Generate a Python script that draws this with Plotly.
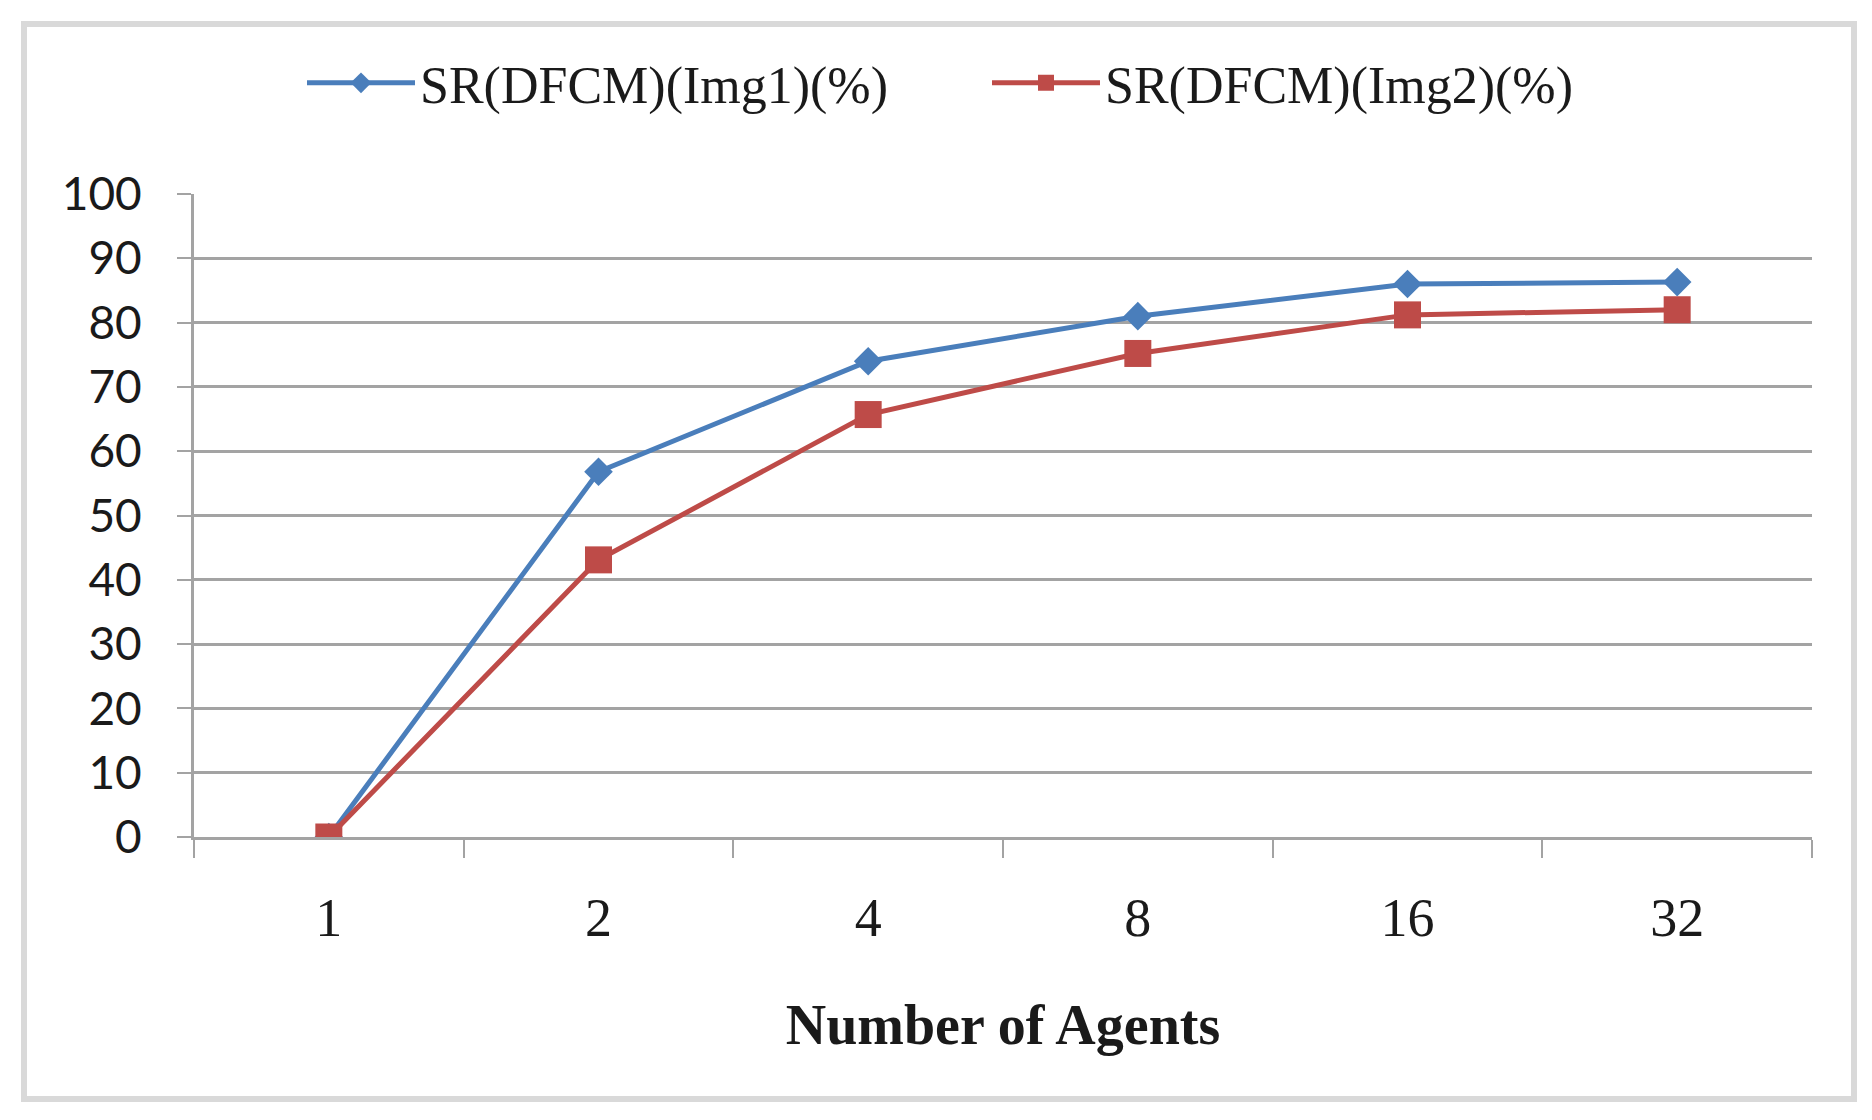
import plotly.graph_objects as go

categories = ["1", "2", "4", "8", "16", "32"]
img1_values = [0, 56.8, 74.0, 81.0, 86.0, 86.3]
img2_values = [0, 43.1, 65.7, 75.2, 81.2, 82.0]
series_names = ["SR(DFCM)(Img1)(%)", "SR(DFCM)(Img2)(%)"]
y_ticks = list(range(0, 101, 10))
x_title = "Number of Agents"

BLUE = "#4A7EBB"
RED = "#BE4B48"
GRID = "#A3A3A3"
SERIF = "Liberation Serif"
SANS = "Lato"

W, H = 1872, 1120
ML, MR, MT, MB = 186, 68, 186, 291
PW, PH = W - ML - MR, H - MT - MB

fig = go.Figure()
fig.add_trace(go.Scatter(
    x=categories, y=img1_values, name=series_names[0], mode="lines+markers",
    line=dict(color=BLUE, width=5),
    marker=dict(symbol="diamond", size=22, color=BLUE),
))
fig.add_trace(go.Scatter(
    x=categories, y=img2_values, name=series_names[1], mode="lines+markers",
    line=dict(color=RED, width=5),
    marker=dict(symbol="square", size=27, color=RED),
))

def px_x(p):
    return (p - ML) / PW

def px_y(p):
    return (H - MB - p) / PH

# outer frame
fig.add_shape(type="rect", xref="paper", yref="paper",
              x0=px_x(16), x1=px_x(1846), y0=px_y(1091), y1=px_y(16),
              line=dict(color="#D9D9D9", width=6), layer="below")

fig.update_layout(
    width=W, height=H,
    margin=dict(l=ML, r=MR, t=MT, b=MB),
    paper_bgcolor="white", plot_bgcolor="white",
    showlegend=True,
    legend=dict(orientation="h", x=px_x(294), xanchor="left",
                y=px_y(75), yanchor="middle",
                font=dict(family=SERIF, size=52, color="#1A1A1A"),
                entrywidth=562, itemwidth=108, tracegroupgap=0,
                bgcolor="rgba(0,0,0,0)"),
    xaxis=dict(
        type="category", categoryorder="array", categoryarray=categories,
        range=[-0.5, len(categories) - 0.5],
        showgrid=False, zeroline=False,
        showline=True, linecolor=GRID, linewidth=3,
        ticks="outside", tickson="boundaries", ticklen=18, tickwidth=2, tickcolor=GRID,
        tickfont=dict(family=SERIF, size=54, color="#1A1A1A"),
        ticklabelstandoff=31,
        title=dict(text="<b>" + x_title + "</b>", standoff=59,
                   font=dict(family=SERIF, size=56, color="#1A1A1A")),
    ),
    yaxis=dict(
        range=[0, 100], tickvals=y_ticks,
        showgrid=True, gridcolor=GRID, gridwidth=3,
        zeroline=False, showline=True, linecolor=GRID, linewidth=3,
        ticks="outside", ticklen=14, tickwidth=2, tickcolor=GRID,
        tickfont=dict(family=SANS, size=46, color="#1A1A1A"),
        ticklabelstandoff=26,
    ),
)

fig.write_html("out.html")
